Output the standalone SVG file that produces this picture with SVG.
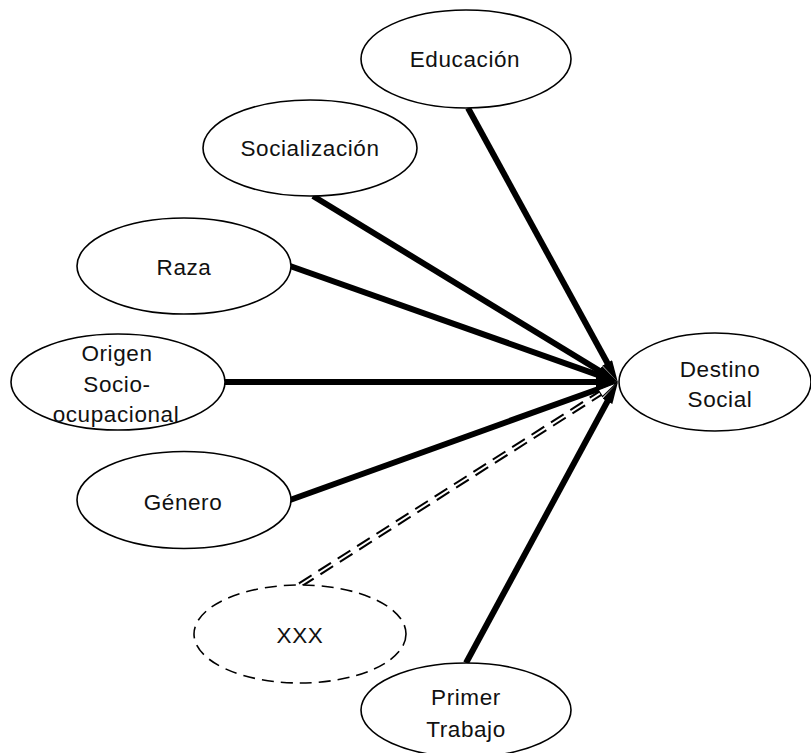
<svg xmlns="http://www.w3.org/2000/svg" width="811" height="753" viewBox="0 0 811 753">
  <style>
    .node ellipse { fill: #ffffff; stroke: #000000; stroke-width: 1.6; }
    .node.dashed ellipse { stroke-dasharray: 12 7; }
    .node text { font-family: "Liberation Sans", Arial, sans-serif; font-size: 22.5px; letter-spacing: 0.6px; fill: #111111; text-anchor: middle; }
    .conn { stroke: #000000; stroke-width: 6; fill: none; }
    .dbl-outer { stroke: #000000; stroke-width: 6; stroke-dasharray: 15 8; fill: none; }
    .dbl-inner { stroke: #ffffff; stroke-width: 2; fill: none; }
  </style>
  <defs>
    <marker id="head" markerUnits="userSpaceOnUse" markerWidth="24" markerHeight="12" refX="8" refY="5.5" orient="auto">
      <path d="M0,0 L22,5.5 L0,11 z" fill="#000000"/>
    </marker>
    <marker id="headHollow" markerUnits="userSpaceOnUse" markerWidth="24" markerHeight="12" refX="8" refY="5" orient="auto">
      <path d="M1,1 L21,5 L1,9 z" fill="#ffffff" stroke="#000000" stroke-width="1.2"/>
    </marker>
  </defs>
  <rect width="811" height="753" fill="#ffffff"/>

  <g id="connectors">
    <line class="conn" x1="468" y1="108" x2="611.1" y2="369.8" marker-end="url(#head)"/>
    <line class="conn" x1="313" y1="196" x2="606.0" y2="374.8" marker-end="url(#head)"/>
    <line class="conn" x1="290" y1="266" x2="604.8" y2="377.3" marker-end="url(#head)"/>
    <line class="conn" x1="225" y1="382" x2="604" y2="382" marker-end="url(#head)"/>
    <line class="conn" x1="290" y1="500" x2="604.8" y2="386.7" marker-end="url(#head)"/>
    <g id="dashed-connector">
      <line class="dbl-outer" x1="300" y1="585" x2="606.2" y2="389.5"/>
      <line class="dbl-inner" x1="300" y1="585" x2="606.2" y2="389.5" marker-end="url(#headHollow)"/>
    </g>
    <line class="conn" x1="466" y1="663" x2="611.3" y2="394.3" marker-end="url(#head)"/>
  </g>

  <g id="educacion" class="node">
    <ellipse cx="466" cy="59" rx="105" ry="49"/>
    <text x="465" y="67">Educación</text>
  </g>
  <g id="socializacion" class="node">
    <ellipse cx="310" cy="148" rx="107" ry="48"/>
    <text x="310" y="156">Socialización</text>
  </g>
  <g id="raza" class="node">
    <ellipse cx="184" cy="266" rx="107" ry="48"/>
    <text x="184" y="275">Raza</text>
  </g>
  <g id="origen" class="node">
    <ellipse cx="118" cy="382" rx="107" ry="48"/>
    <text x="117" y="361">Origen</text>
    <text x="117" y="392">Socio-</text>
    <text x="116" y="422">ocupacional</text>
  </g>
  <g id="genero" class="node">
    <ellipse cx="184" cy="500" rx="107" ry="48.5"/>
    <text x="183" y="510">Género</text>
  </g>
  <g id="xxx" class="node dashed">
    <ellipse cx="300" cy="634" rx="106" ry="49"/>
    <text x="300" y="643">XXX</text>
  </g>
  <g id="primer-trabajo" class="node">
    <ellipse cx="466" cy="710" rx="105" ry="47"/>
    <text x="466" y="705">Primer</text>
    <text x="466" y="737">Trabajo</text>
  </g>
  <g id="destino-social" class="node">
    <ellipse cx="715" cy="382" rx="96" ry="49"/>
    <text x="720" y="377">Destino</text>
    <text x="720" y="407">Social</text>
  </g>
</svg>
